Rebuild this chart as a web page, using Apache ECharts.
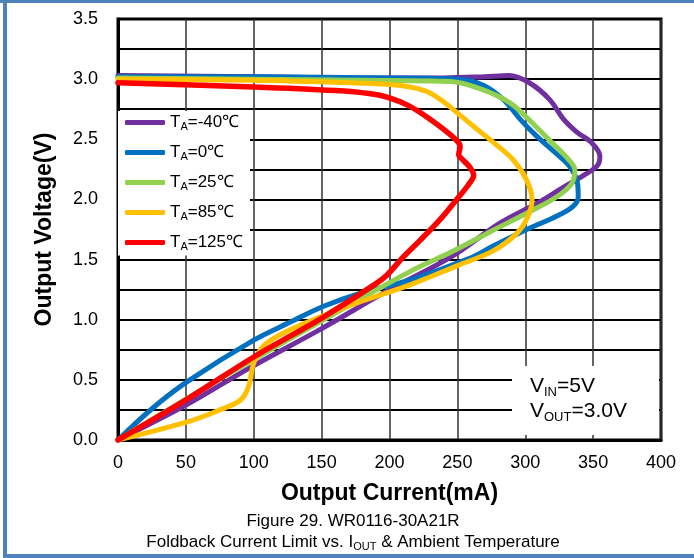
<!DOCTYPE html>
<html>
<head>
<meta charset="utf-8">
<script src="https://cdn.jsdelivr.net/npm/echarts@6/dist/echarts.min.js"></script>
<style>
  html, body { margin: 0; padding: 0; background: #fff; }
  #chart { width: 694px; height: 558px; }
</style>
</head>
<body>
<div id="chart"></div>
<script>
const FONT = '"Liberation Sans", Arial, Helvetica, sans-serif';

// Each curve is [output current (mA), output voltage (V)],
// traced from light load, around the current-limit knee, back down to short circuit.
const curveM40 = [
  [0, 3.03], [100, 3.02], [180, 3.01], [240, 3.01], [270, 3.02], [288, 3.03],
  [303, 2.97], [318, 2.83], [328, 2.67], [338, 2.56], [349, 2.47], [355, 2.36],
  [353, 2.28], [343, 2.20], [328, 2.10], [309, 1.97], [281, 1.80], [245, 1.52],
  [200, 1.25], [149, 0.92], [97, 0.60], [50, 0.29], [0, 0]
];
const curve0 = [
  [0, 3.02], [100, 3.02], [200, 3.01], [252, 3.00], [269, 2.95], [284, 2.83],
  [296, 2.67], [308, 2.53], [323, 2.38], [333, 2.27], [338.6, 2.13], [339, 2.02],
  [335, 1.94], [323, 1.86], [303, 1.76], [276, 1.61], [259, 1.51], [215, 1.33],
  [181, 1.23], [151, 1.11], [127, 0.98], [100, 0.83], [51, 0.485], [25, 0.26], [0, 0]
];
const curve25 = [
  [0, 3.01], [100, 3.00], [180, 2.99], [245, 2.98], [269, 2.91], [289, 2.80],
  [303, 2.66], [318, 2.49], [330, 2.355], [336.6, 2.245], [334, 2.13], [323, 2.02],
  [303.5, 1.90], [274, 1.73], [245, 1.56], [215, 1.40], [150, 0.99], [100, 0.67],
  [50, 0.34], [0, 0]
];
const curve85 = [
  [0, 3.00], [100, 2.99], [170, 2.97], [200, 2.955], [215, 2.935], [228, 2.895],
  [240, 2.81], [253, 2.69], [266, 2.57], [278, 2.46], [291, 2.33], [301, 2.16],
  [305, 2.00], [302, 1.86], [294, 1.72], [276, 1.57], [250, 1.45], [215, 1.29],
  [176, 1.14], [146, 1.01], [122, 0.89], [107, 0.78], [100, 0.64], [96, 0.44],
  [90, 0.33], [75, 0.25], [51, 0.15], [0, 0]
];
const curve125 = [
  [0, 2.97], [100, 2.935], [160, 2.905], [185, 2.88], [200, 2.845], [214, 2.78],
  [227, 2.69], [239, 2.59], [249.5, 2.49], [252, 2.44], [251, 2.37], [253, 2.34],
  [259, 2.27], [262, 2.20], [258, 2.12], [249.5, 2.00], [237, 1.83], [222.5, 1.66],
  [210, 1.52], [198, 1.37], [190, 1.30], [151, 1.02], [100, 0.69], [51, 0.34], [0, 0]
];

const temperatures = ['-40℃', '0℃', '25℃', '85℃', '125℃'];
const curveColors = ['#7030A0', '#0070C0', '#92D050', '#FFC000', '#FF0000'];
const curves = [curveM40, curve0, curve25, curve85, curve125];
const seriesNames = temperatures.map(t => 'TA=' + t);

const chart = echarts.init(document.getElementById('chart'), null, { renderer: 'canvas' });

const series = curves.map((data, i) => ({
  name: seriesNames[i],
  type: 'line',
  data: data,
  smooth: 0.35,
  symbol: 'none',
  lineStyle: { color: curveColors[i], width: i === 4 ? 5.5 : 5, cap: 'round', join: 'round' },
  itemStyle: { color: curveColors[i] },
  z: 2 + i
}));

const option = {
  animation: false,
  backgroundColor: '#fff',
  grid: {
    left: 118, right: 33, top: 19, bottom: 118,
    show: true, borderColor: '#000', borderWidth: 3, backgroundColor: 'transparent'
  },
  xAxis: {
    type: 'value', min: 0, max: 400, interval: 50,
    name: 'Output Current(mA)', nameLocation: 'middle', nameGap: 42,
    nameTextStyle: { fontFamily: FONT, fontSize: 23, fontWeight: 'bold', color: '#000' },
    axisLine: { show: true, lineStyle: { color: '#000', width: 3 } },
    axisTick: { show: false },
    axisLabel: { fontFamily: FONT, fontSize: 18, color: '#000', margin: 14 },
    splitLine: { show: true, lineStyle: { color: '#333', width: 1.5 } }
  },
  yAxis: {
    type: 'value', min: 0, max: 3.5, interval: 0.5,
    name: 'Output Voltage(V)', nameLocation: 'middle', nameGap: 62,
    nameTextStyle: { fontFamily: FONT, fontSize: 23, fontWeight: 'bold', color: '#000' },
    axisLine: { show: true, lineStyle: { color: '#000', width: 3 } },
    axisTick: { show: false },
    axisLabel: { fontFamily: FONT, fontSize: 18, color: '#000', margin: 20,
      formatter: v => v.toFixed(1) },
    splitLine: { show: true, lineStyle: { color: '#000', width: 2 } },
    minorTick: { show: false, splitNumber: 2 },
    minorSplitLine: { show: true, lineStyle: { color: '#000', width: 2 } }
  },
  legend: {
    data: seriesNames,
    orient: 'vertical',
    left: 118, top: 111,
    padding: [3, 7, 3, 7],
    backgroundColor: '#fff',
    itemGap: 11.5,
    itemWidth: 40, itemHeight: 5,
    icon: 'roundRect',
    formatter: name => '{t|T}{s|A}{t|' + name.slice(2) + '}',
    textStyle: {
      fontFamily: FONT, fontSize: 17, color: '#000',
      rich: {
        t: { fontFamily: FONT, fontSize: 17, color: '#000', lineHeight: 20 },
        s: { fontFamily: FONT, fontSize: 11, color: '#000', lineHeight: 11, verticalAlign: 'bottom' }
      }
    }
  },
  graphic: [
    // page frame
    { type: 'rect', z: 10, shape: { x: 0, y: 0, width: 694, height: 3 }, style: { fill: '#4F81BD' } },
    { type: 'rect', z: 10, shape: { x: 3, y: 0, width: 4, height: 558 }, style: { fill: '#4F81BD' } },
    { type: 'rect', z: 10, shape: { x: 3, y: 554, width: 691, height: 4 }, style: { fill: '#4F81BD' } },
    // test condition box
    { type: 'rect', z: 5, shape: { x: 512, y: 366, width: 147, height: 69 }, style: { fill: '#fff' } },
    {
      type: 'text', z: 6, left: 530, top: 376,
      style: {
        text: '{v|V}{s|IN}{v|=5V}\n{v|V}{s|OUT}{v|=3.0V}',
        rich: {
          v: { fontFamily: FONT, fontSize: 21, fill: '#000', lineHeight: 25 },
          s: { fontFamily: FONT, fontSize: 13, fill: '#000', lineHeight: 13, verticalAlign: 'bottom' }
        }
      }
    },
    // caption
    {
      type: 'text', z: 6, x: 353, y: 521,
      style: {
        text: 'Figure 29. WR0116-30A21R',
        fontFamily: FONT, fontSize: 17, fill: '#000', align: 'center', verticalAlign: 'middle'
      }
    },
    {
      type: 'text', z: 6, x: 353, y: 542,
      style: {
        text: '{c|Foldback Current Limit vs. I}{s|OUT}{c| & Ambient Temperature}',
        align: 'center', verticalAlign: 'middle',
        rich: {
          c: { fontFamily: FONT, fontSize: 17, fill: '#000', lineHeight: 20 },
          s: { fontFamily: FONT, fontSize: 11, fill: '#000', lineHeight: 11, verticalAlign: 'bottom' }
        }
      }
    }
  ],
  series: series
};

chart.setOption(option);
</script>
</body>
</html>
